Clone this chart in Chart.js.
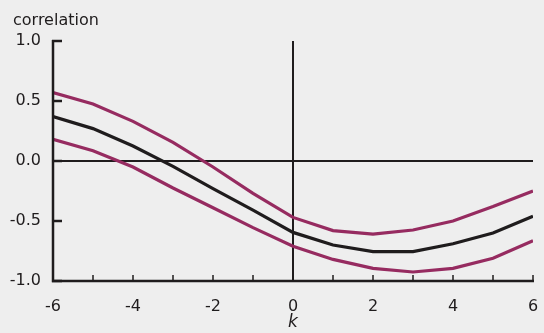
<!DOCTYPE html>
<html>
<head>
<meta charset="utf-8">
<style>
  html, body { margin: 0; padding: 0; background: #eeeeee; }
  #wrap { width: 544px; height: 333px; }
</style>
<script src="https://cdn.jsdelivr.net/npm/chart.js@4"></script>
</head>
<body>
<div id="wrap"><canvas id="c" width="544" height="333"></canvas></div>
<script>
// lag k
const lags = [-6, -5, -4, -3, -2, -1, 0, 1, 2, 3, 4, 5, 6];
// estimated correlation
const estimate = [0.37, 0.27, 0.125, -0.045, -0.23, -0.41, -0.595, -0.70, -0.755, -0.755, -0.69, -0.60, -0.46];
// upper and lower bounds
const upperBound = [0.57, 0.475, 0.33, 0.155, -0.05, -0.27, -0.47, -0.58, -0.61, -0.575, -0.50, -0.38, -0.25];
const lowerBound = [0.18, 0.085, -0.05, -0.225, -0.39, -0.555, -0.71, -0.82, -0.895, -0.925, -0.895, -0.81, -0.665];
const yTicks = [-1.0, -0.5, 0.0, 0.5, 1.0];
const xLabelTicks = [-6, -4, -2, 0, 2, 4, 6];

const FONT = "'DejaVu Sans', sans-serif";
const INK = '#1f1c1d';
const PURPLE = '#962b60';

const pts = (ys) => lags.map((k, i) => ({ x: k, y: ys[i] }));

// axis lines, inward tick marks and the vertical-axis caption
const axisDecor = {
  id: 'axisDecor',
  afterDatasetsDraw(chart) {
    const { ctx, chartArea: a, scales: { x, y } } = chart;
    ctx.save();
    ctx.strokeStyle = INK;
    ctx.lineWidth = 2.5;
    ctx.lineCap = 'butt';
    // y axis and x axis lines
    ctx.beginPath();
    ctx.moveTo(x.getPixelForValue(-6), y.getPixelForValue(1.0) - 1);
    ctx.lineTo(x.getPixelForValue(-6), y.getPixelForValue(-1.0));
    ctx.lineTo(x.getPixelForValue(6) + 1, y.getPixelForValue(-1.0));
    ctx.stroke();
    // y ticks pointing right
    yTicks.forEach(v => {
      const py = y.getPixelForValue(v);
      ctx.beginPath();
      ctx.moveTo(a.left - 1, py);
      ctx.lineTo(a.left + 9, py);
      ctx.stroke();
    });
    // x ticks pointing up
    ctx.lineWidth = 1.5;
    lags.forEach(k => {
      const px = x.getPixelForValue(k);
      ctx.beginPath();
      ctx.moveTo(px, a.bottom);
      ctx.lineTo(px, a.bottom - 6);
      ctx.stroke();
    });
    // caption
    ctx.fillStyle = INK;
    ctx.font = '16px ' + FONT;
    ctx.textAlign = 'left';
    ctx.textBaseline = 'alphabetic';
    ctx.fillText('correlation', 13, 25);
    ctx.restore();
  }
};

new Chart(document.getElementById('c'), {
  type: 'line',
  data: {
    datasets: [
      { data: pts(upperBound), borderColor: PURPLE, borderWidth: 3.2 },
      { data: pts(lowerBound), borderColor: PURPLE, borderWidth: 3.2 },
      { data: pts(estimate), borderColor: INK, borderWidth: 3.2 }
    ]
  },
  options: {
    responsive: false,
    animation: false,
    layout: { padding: { top: 41, right: 11, left: 0, bottom: 0 } },
    elements: { point: { radius: 0 }, line: { tension: 0 } },
    plugins: { legend: { display: false }, tooltip: { enabled: false } },
    scales: {
      x: {
        type: 'linear', min: -6, max: 6,
        border: { display: false },
        grid: {
          drawTicks: false,
          lineWidth: 2,
          color: (c) => (c.tick && c.tick.value === 0 ? INK : 'rgba(0,0,0,0)')
        },
        afterBuildTicks: (s) => { s.ticks = xLabelTicks.map(v => ({ value: v })); },
        ticks: { color: INK, font: { family: FONT, size: 16 }, padding: 16, maxRotation: 0,
                 callback: (v) => String(v) },
        title: { display: true, text: 'k', color: INK,
                 font: { family: FONT, size: 17, style: 'italic' }, padding: { top: 2, bottom: 0 } },
        afterFit: (s) => { s.height = 52; s.paddingLeft = 0; s.paddingRight = 0; }
      },
      y: {
        type: 'linear', min: -1, max: 1,
        border: { display: false },
        grid: {
          drawTicks: false,
          lineWidth: 2,
          color: (c) => (c.tick && c.tick.value === 0 ? INK : 'rgba(0,0,0,0)')
        },
        afterBuildTicks: (s) => { s.ticks = yTicks.map(v => ({ value: v })); },
        ticks: { color: INK, font: { family: FONT, size: 16 }, padding: 12,
                 callback: (v) => v.toFixed(1) },
        afterFit: (s) => { s.width = 53; s.paddingTop = 0; s.paddingBottom = 0; }
      }
    }
  },
  plugins: [axisDecor]
});
</script>
</body>
</html>
